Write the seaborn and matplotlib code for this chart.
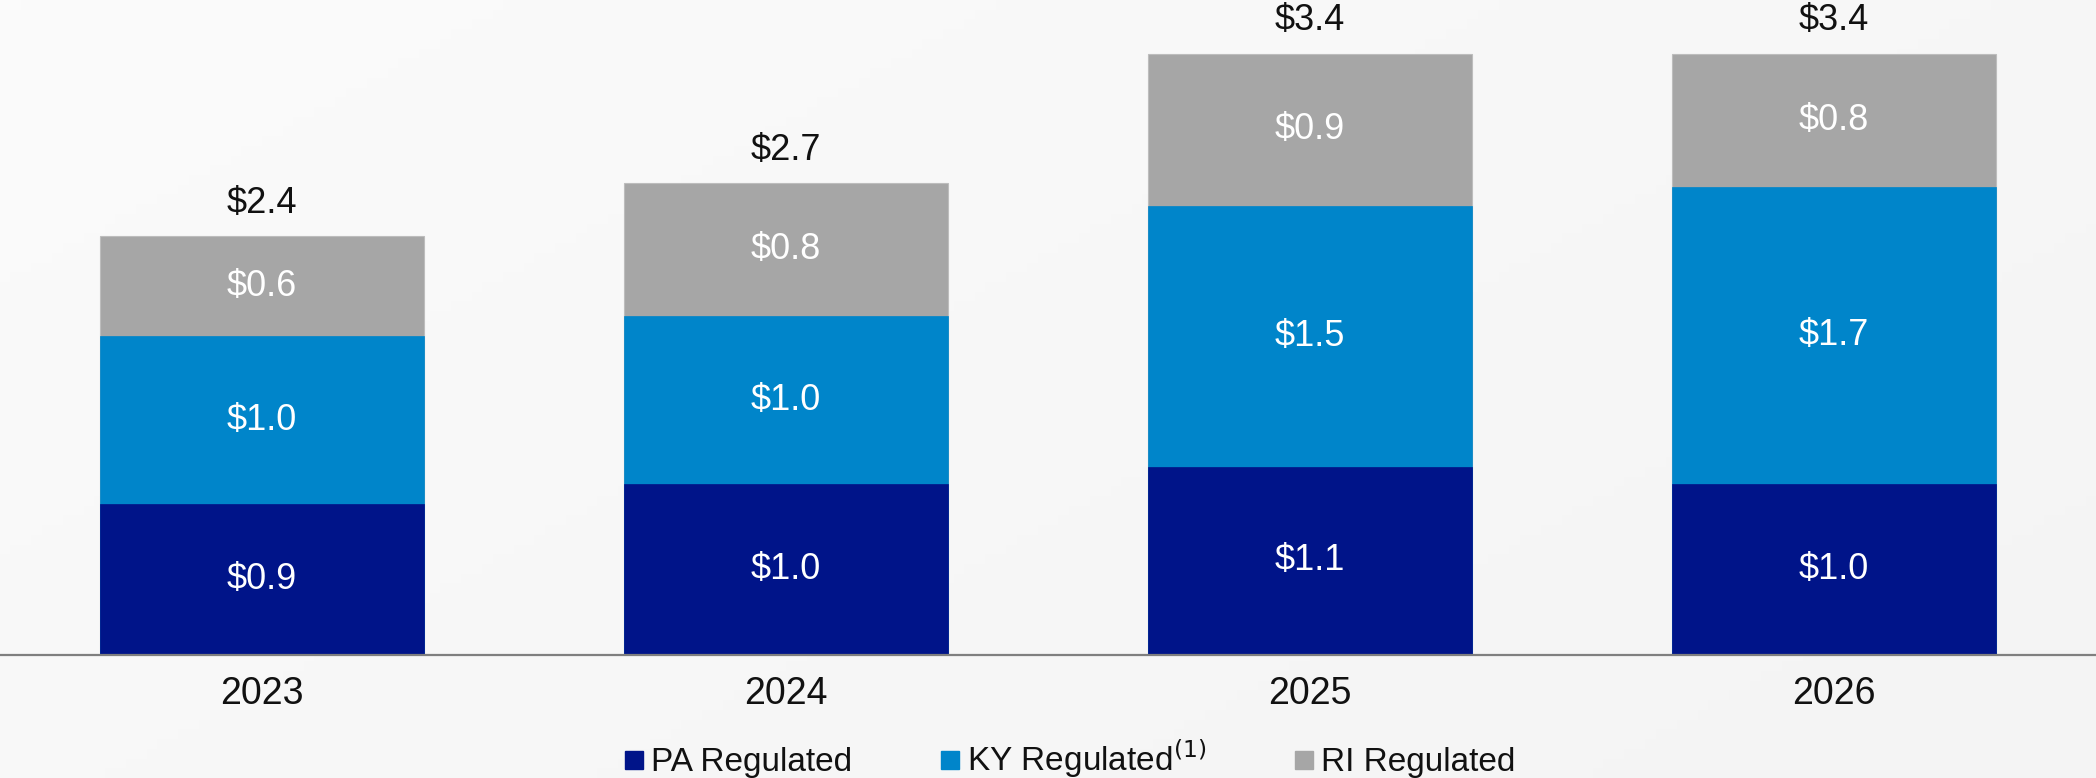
import numpy as np
import pandas as pd
import matplotlib
matplotlib.use("Agg")
import matplotlib.pyplot as plt
from matplotlib.lines import Line2D
import seaborn as sns

years = ["2023", "2024", "2025", "2026"]
pa_regulated = [0.855, 0.97, 1.07, 0.97]
ky_regulated = [0.955, 0.955, 1.48, 1.69]
ri_regulated = [0.57, 0.755, 0.866, 0.755]
series_names = ["PA Regulated", "KY Regulated$^{\\mathrm{(1)}}$", "RI Regulated"]
colors = ["#001489", "#0085CA", "#A6A6A6"]

sns.set_theme(style="white")
plt.rcParams["font.family"] = ["Liberation Sans", "DejaVu Sans"]

df = pd.DataFrame({"year": years, "PA": pa_regulated, "KY": ky_regulated, "RI": ri_regulated})
df["PA_top"] = df["PA"]
df["KY_top"] = df["PA"] + df["KY"]
df["RI_top"] = df["KY_top"] + df["RI"]

fig = plt.figure(figsize=(20.96, 7.78), dpi=100)
bg_color = "#f8f8f8"
fig.patch.set_facecolor(bg_color)

# subtle background gradient
bg = fig.add_axes([0, 0, 1, 1], zorder=-10)
gx = np.linspace(0, 1, 200)
gy = np.linspace(0, 1, 80)
GX, GY = np.meshgrid(gx, gy)
grad = 0.6 * GX + 0.4 * GY
bg.imshow(grad, cmap=matplotlib.colors.LinearSegmentedColormap.from_list("g", ["#fbfbfb", "#f4f4f4"]),
          aspect="auto", extent=[0, 1, 0, 1], origin="upper")
bg.axis("off")

ax = fig.add_axes([0.0, 123 / 778, 1.0, 655 / 778])
ax.patch.set_alpha(0)

width = 0.62
sns.barplot(data=df, x="year", y="RI_top", color=colors[2], saturation=1, width=width,
            ax=ax, edgecolor="#bdbdbd", linewidth=0.8)
sns.barplot(data=df, x="year", y="KY_top", color=colors[1], saturation=1, width=width,
            ax=ax, edgecolor=colors[1], linewidth=0.5)
sns.barplot(data=df, x="year", y="PA_top", color=colors[0], saturation=1, width=width,
            ax=ax, edgecolor=colors[0], linewidth=0.5)

ax.set_xlim(-0.5, 3.5)
ax.set_ylim(0, 3.72)
ax.set_xlabel("")
ax.set_ylabel("")
ax.set_yticks([])
for s in ["top", "right", "left"]:
    ax.spines[s].set_visible(False)
ax.spines["bottom"].set_color("#7f7f7f")
ax.spines["bottom"].set_linewidth(1.6)
ax.tick_params(axis="x", length=0, pad=15, labelsize=27, labelcolor="#111111")

fs = 26
for i in range(len(years)):
    pa, ky, ri = pa_regulated[i], ky_regulated[i], ri_regulated[i]
    ax.text(i, pa / 2, f"${pa:.1f}", ha="center", va="center", color="white", fontsize=fs)
    ax.text(i, pa + ky / 2, f"${ky:.1f}", ha="center", va="center", color="white", fontsize=fs)
    ax.text(i, pa + ky + ri / 2, f"${ri:.1f}", ha="center", va="center", color="white", fontsize=fs)
    tot = pa + ky + ri
    ax.annotate(f"${tot:.1f}", (i, tot), xytext=(0, 11), textcoords="offset points",
                ha="center", va="bottom", color="#111111", fontsize=fs)

handles = [Line2D([0], [0], marker="s", linestyle="none", markersize=13,
                  markerfacecolor=c, markeredgecolor=c) for c in colors]
leg = fig.legend(handles, series_names, loc="center", bbox_to_anchor=(1068 / 2096, 1 - 759 / 778),
                 ncol=3, frameon=False, fontsize=24, handletextpad=0.1, columnspacing=2.55,
                 handlelength=0.8, borderaxespad=0, borderpad=0)
for t in leg.get_texts():
    t.set_color("#111111")

fig.savefig("out.png", dpi=100, facecolor=fig.get_facecolor())
